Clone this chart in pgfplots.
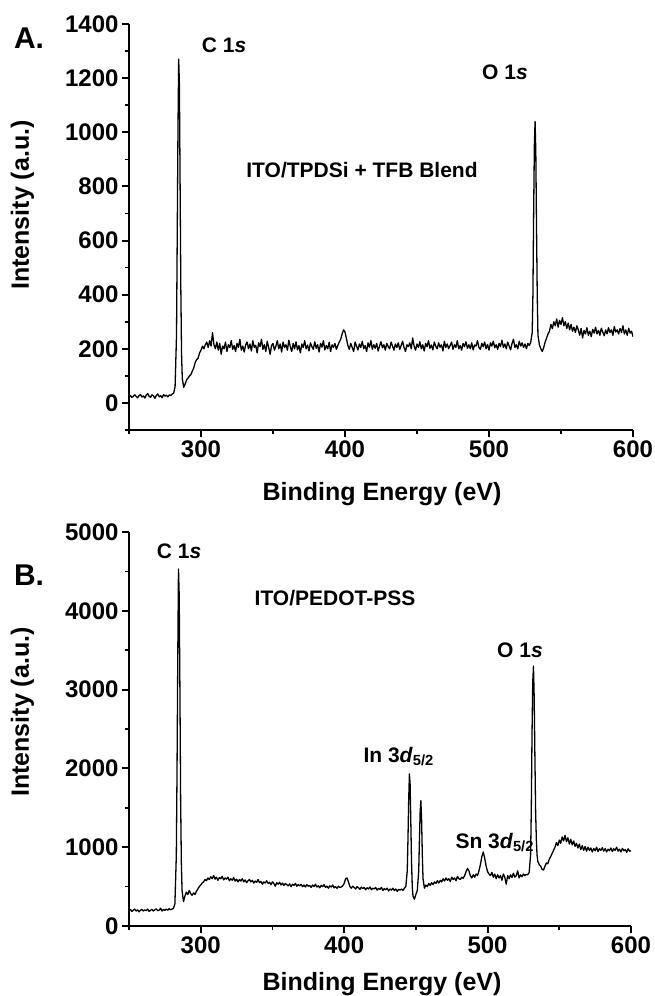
\documentclass[border=0pt]{standalone}
\usepackage{fontspec}
\setmainfont{Liberation Sans}
\usepackage{pgfplots}
\pgfplotsset{compat=1.18}
\pgfplotsset{
 myax/.style={
   scale only axis,
   axis lines=left,
   axis line style={-, line width=2pt},
   xmin=250, xmax=600,
   xtick={300,400,500,600}, minor xtick={250,350,450,550},
   tick align=outside, tick pos=left,
   major tick length=7pt, minor tick length=4pt,
   every tick/.style={black, line width=2pt},
   every minor tick/.style={black, line width=1.6pt},
   ticklabel style={font=\bfseries\fontsize{24}{28}\selectfont},
   /pgf/number format/assume math mode=true,
   /pgf/number format/1000 sep={},
   scaled ticks=false,
 }
}
\newcommand{\lab}{\bfseries\fontsize{21}{25}\selectfont}
\newcommand{\axl}{\bfseries\fontsize{25}{29}\selectfont}
\begin{document}
\begin{tikzpicture}[x=1pt,y=1pt]
\useasboundingbox (0,0) rectangle (654,-996);
% ---------------- Panel A ----------------
\begin{axis}[myax, at={(129pt,-430pt)}, anchor=south west,
  width=504pt, height=406pt,
  ymin=-100, ymax=1400,
  ytick={0,200,400,600,800,1000,1200,1400},
  minor ytick={-100,100,300,500,700,900,1100,1300}]
\addplot[black, line width=1.3pt, line join=round] table {
250 22
251 28
252 20
253 25
254 30
255 24
256 19
257 27
258 31
259 22
260 26
261 18
262 29
263 35
264 24
265 21
266 30
267 26
268 17
269 28
270 33
271 23
272 27
273 19
274 31
275 25
276 29
277 22
278 30
279 27
280 33
281 36
282 60
283 250
283.5 620
284 1000
284.5 1270
285 1180
285.5 800
286 420
286.5 180
287 90
288 58
289 70
290 85
291 92
292 100
293 105
294 118
295 130
296 150
297 160
298 165
299 185
300 195
301 210
302 200
303 215
304 225
305 205
306 230
307 210
308 260
309 215
310 200
311 225
312 195
313 220
314 180
315 210
316 200
317 225
318 190
319 215
320 205
321 230
322 198
323 212
324 190
325 220
326 205
327 235
328 195
329 210
330 188
331 215
332 225
333 200
334 218
335 192
336 230
337 205
338 213
339 185
340 222
341 208
342 235
343 198
344 215
345 190
346 228
347 205
348 180
349 212
350 220
351 195
352 210
353 230
354 200
355 218
356 188
357 225
358 205
359 215
360 195
361 232
362 208
363 190
364 220
365 200
366 226
367 196
368 212
369 185
370 218
371 205
372 230
373 200
374 214
375 192
376 222
377 208
378 198
379 226
380 202
381 215
382 188
383 220
384 206
385 230
386 196
387 212
388 200
389 224
390 190
391 215
392 205
393 220
394 198
395 212
396 225
397 235
398 255
399 270
400 262
401 238
402 212
403 198
404 220
405 205
406 190
407 225
408 210
409 196
410 218
411 205
412 228
413 200
414 212
415 190
416 222
417 206
418 230
419 198
420 215
421 202
422 220
423 192
424 210
425 226
426 204
427 215
428 195
429 220
430 208
431 200
432 225
433 210
434 195
435 218
436 205
437 222
438 198
439 212
440 228
441 205
442 190
443 215
444 208
445 222
446 200
447 240
448 210
449 195
450 218
451 205
452 226
453 200
454 215
455 192
456 220
457 208
458 230
459 202
460 214
461 196
462 225
463 210
464 200
465 222
466 206
467 215
468 192
469 228
470 205
471 218
472 200
473 212
474 225
475 198
476 215
477 205
478 230
479 200
480 212
481 195
482 220
483 208
484 226
485 202
486 215
487 200
488 222
489 196
490 214
491 210
492 230
493 205
494 198
495 220
496 208
497 225
498 200
499 216
500 195
501 222
502 210
503 228
504 204
505 215
506 198
507 220
508 208
509 232
510 205
511 218
512 200
513 225
514 210
515 196
516 220
517 235
518 205
519 215
520 200
521 228
522 210
523 222
524 205
525 218
526 200
527 220
528 212
529 225
530 260
530.5 400
531 700
531.5 950
532 1040
532.5 930
533 650
533.5 400
534 250
535 215
536 200
537 190
538 205
539 225
540 240
541 255
542 265
543 290
544 275
545 300
546 285
547 310
548 280
549 305
550 290
551 315
552 285
553 300
554 275
555 295
556 270
557 290
558 265
559 280
560 260
561 285
562 270
563 250
564 275
565 240
566 268
567 255
568 278
569 250
570 265
571 245
572 272
573 258
574 280
575 255
576 268
577 250
578 276
579 262
580 248
581 270
582 255
583 278
584 260
585 270
586 250
587 282
588 262
589 270
590 255
591 275
592 260
593 285
594 255
595 270
596 250
597 276
598 258
599 265
600 245
};
\end{axis}
% ---------------- Panel B ----------------
\begin{axis}[myax, at={(129pt,-926pt)}, anchor=south west,
  width=502pt, height=394pt,
  ymin=0, ymax=5000,
  ytick={0,1000,2000,3000,4000,5000},
  minor ytick={500,1500,2500,3500,4500}]
\addplot[black, line width=1.3pt, line join=round] table {
250 195
251 210
252 185
253 200
254 215
255 190
256 205
257 180
258 200
259 212
260 190
261 205
262 195
263 215
264 185
265 200
266 210
267 190
268 205
269 218
270 195
271 200
272 225
273 190
274 210
275 198
276 215
277 200
278 220
279 205
280 215
281 225
282 280
283 900
283.5 2000
284 3400
284.5 4530
285 4200
285.5 3000
286 1600
286.5 800
287 450
288 310
289 380
290 430
291 400
292 450
293 410
294 390
295 420
296 400
297 440
298 470
299 500
300 520
301 545
302 560
303 590
304 575
305 610
306 590
307 625
308 600
309 640
310 595
311 620
312 580
313 615
314 600
315 630
316 585
317 610
318 595
319 620
320 575
321 600
322 580
323 615
324 570
325 595
326 560
327 590
328 570
329 600
330 560
331 585
332 550
333 575
334 590
335 560
336 580
337 545
338 570
339 555
340 590
341 550
342 565
343 530
344 560
345 545
346 575
347 540
348 555
349 525
350 560
351 540
352 505
353 550
354 530
355 555
356 520
357 545
358 515
359 540
360 525
361 510
362 535
363 500
364 530
365 515
366 540
367 505
368 525
369 510
370 530
371 500
372 520
373 495
374 525
375 505
376 515
377 490
378 520
379 500
380 530
381 495
382 510
383 485
384 515
385 500
386 525
387 490
388 505
389 480
390 510
391 495
392 520
393 485
394 500
395 478
396 505
397 490
398 495
399 510
400 540
401 600
402 610
403 560
404 500
405 480
406 505
407 490
408 470
409 500
410 485
411 465
412 495
413 475
414 490
415 460
416 485
417 470
418 495
419 460
420 480
421 470
422 490
423 455
424 478
425 465
426 490
427 450
428 475
429 460
430 480
431 445
432 470
433 455
434 480
435 450
436 470
437 440
438 465
439 455
440 470
441 450
442 480
443 500
444 700
444.5 1100
445 1600
445.5 1930
446 1800
446.5 1300
447 800
447.5 500
448 380
449 340
450 400
451 450
452 700
452.5 1100
453 1450
453.5 1590
454 1350
454.5 900
455 600
456 480
457 520
458 500
459 540
460 515
461 550
462 525
463 560
464 540
465 575
466 545
467 580
468 560
469 600
470 570
471 610
472 580
473 600
474 565
475 620
476 590
477 610
478 575
479 630
480 600
481 590
482 620
483 605
484 640
485 690
486 730
487 700
488 640
489 610
490 650
491 620
492 660
493 640
494 700
495 780
496 880
497 940
498 860
499 760
500 690
501 660
502 640
503 680
504 620
505 660
506 600
507 650
508 610
509 640
510 580
511 660
512 620
513 530
514 640
515 600
516 650
517 615
518 670
519 620
520 640
521 700
522 610
523 650
524 625
525 660
526 640
527 655
528 650
529 680
530 900
530.5 1500
531 2450
531.5 3100
532 3300
532.5 2900
533 2150
533.5 1450
534 1100
534.5 900
535 820
536 780
537 760
538 720
539 710
540 760
541 800
542 790
543 850
544 880
545 920
546 960
547 1000
548 1060
549 1020
550 1090
551 1050
552 1130
553 1080
554 1150
555 1070
556 1120
557 1040
558 1100
559 1030
560 1080
561 1010
562 1050
563 990
564 1040
565 970
566 1020
567 960
568 1010
569 950
570 1000
571 960
572 990
573 940
574 985
575 955
576 1000
577 945
578 980
579 960
580 995
581 950
582 985
583 940
584 975
585 955
586 990
587 945
588 980
589 960
590 1000
591 950
592 975
593 940
594 985
595 955
596 970
597 935
598 980
599 950
600 955
};
\end{axis}
% ---------------- Texts ----------------
\node[font=\bfseries\fontsize{30}{34}\selectfont] at (29,-38) {A.};
\node[font=\bfseries\fontsize{30}{34}\selectfont] at (29,-575) {B.};
\node[font=\axl, rotate=90] at (22.5,-205) {Intensity (a.u.)};
\node[font=\axl, rotate=90] at (22.5,-712) {Intensity (a.u.)};
\node[font=\axl] at (382,-494) {Binding Energy (eV)};
\node[font=\axl] at (382,-984) {Binding Energy (eV)};
\node[font=\lab] at (224,-45) {C 1\textit{s}};
\node[font=\lab] at (505,-72) {O 1\textit{s}};
\node[font=\lab] at (362,-170) {ITO/TPDSi + TFB Blend};
\node[font=\lab] at (179,-551) {C 1\textit{s}};
\node[font=\lab] at (335,-598) {ITO/PEDOT-PSS};
\node[font=\lab] at (520,-650) {O 1\textit{s}};
\node[font=\lab, anchor=base west] at (360,-762) {In 3\textit{d}\textsubscript{5/2}};
\node[font=\lab, anchor=base west] at (452,-848) {Sn 3\textit{d}\textsubscript{5/2}};
\end{tikzpicture}
\end{document}
